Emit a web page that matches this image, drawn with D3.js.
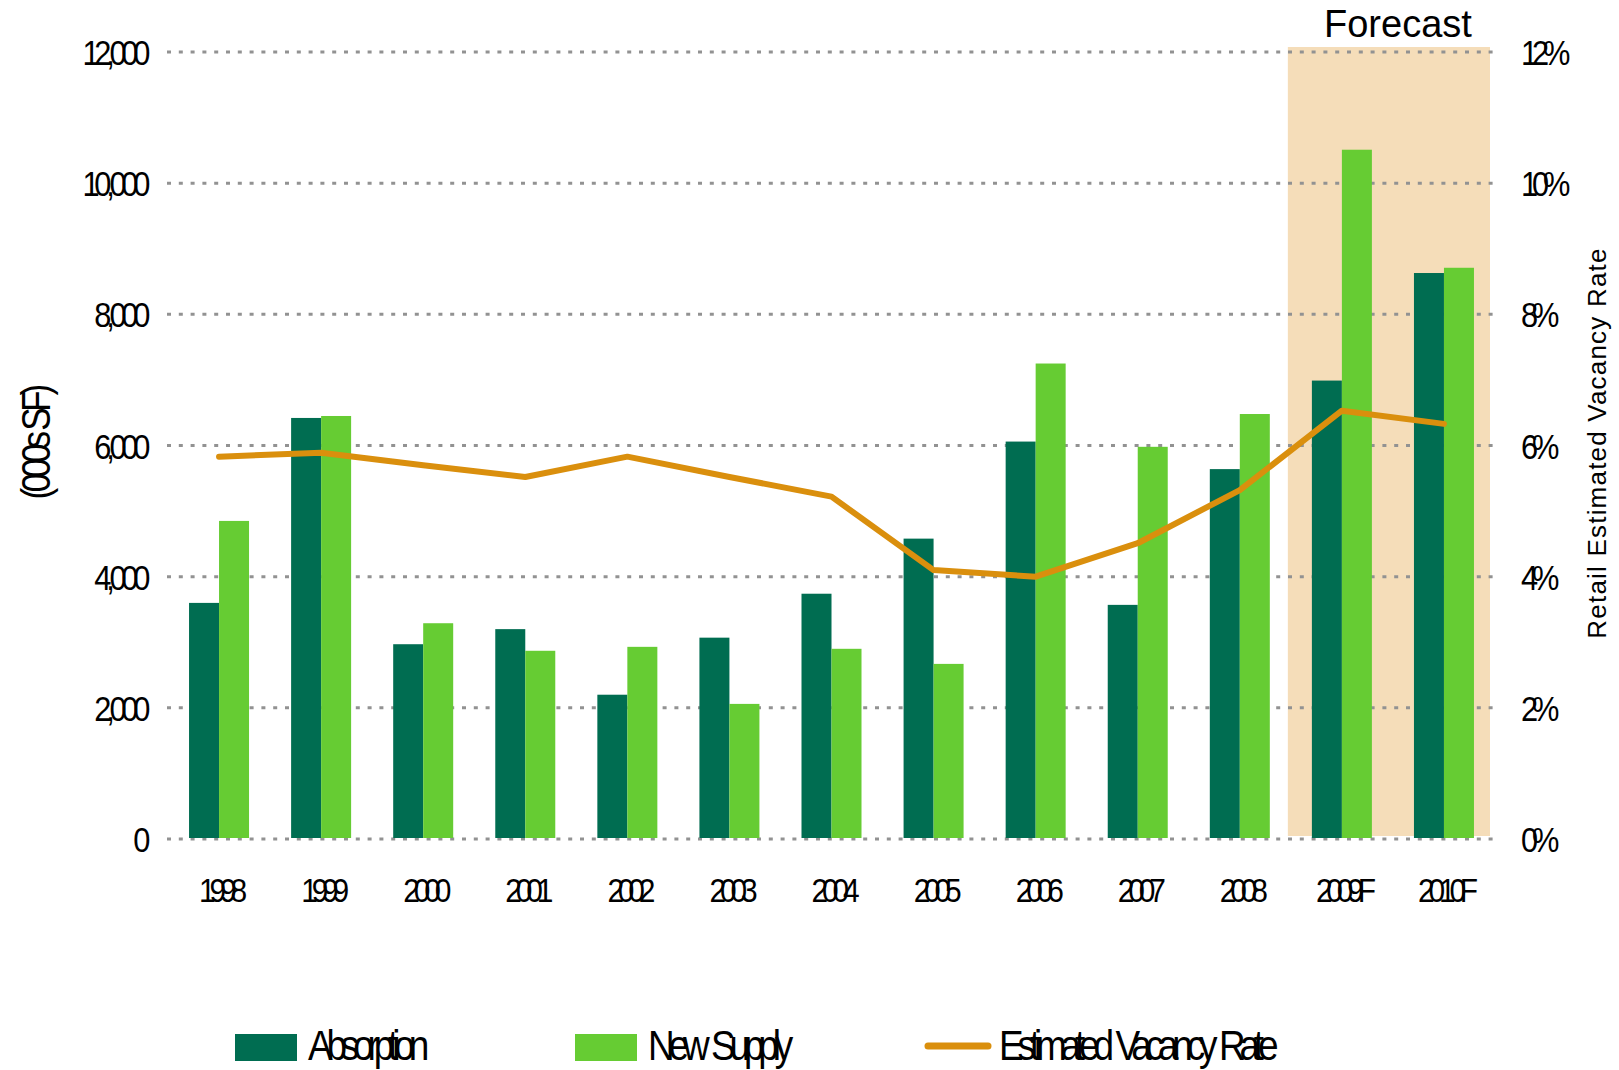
<!DOCTYPE html>
<html lang="en">
<head>
<meta charset="UTF-8">
<title>Absorption, New Supply and Vacancy Rate</title>
<script src="https://d3js.org/d3.v7.min.js"></script>
<style>
    body { margin: 0; background: #fff; }
    text { font-family: "Liberation Sans", Arial, sans-serif; fill: #000; }
</style>
</head>
<body>
<script>
// Data
const years = ["1998", "1999", "2000", "2001", "2002", "2003", "2004", "2005", "2006", "2007", "2008", "2009F", "2010F"];
const absorption = [3600, 6420, 2970, 3200, 2200, 3070, 3740, 4580, 6060, 3570, 5640, 6990, 8630];
const newSupply = [4850, 6450, 3290, 2870, 2930, 2060, 2900, 2670, 7250, 5980, 6480, 10510, 8710];
const vacancy = [5.83, 5.89, 5.70, 5.52, 5.83, 5.52, 5.22, 4.10, 4.00, 4.51, 5.32, 6.53, 6.33];
const forecastYears = ["2009F", "2010F"];
const leftTicks = [0, 2000, 4000, 6000, 8000, 10000, 12000];
const rightTicks = [0, 2, 4, 6, 8, 10, 12];
const legendLabels = ["Absorption", "New Supply", "Estimated Vacancy Rate"];

const colors = {abs: "#006d51", sup: "#66cc33", line: "#da8f0d", shade: "#f5ddb9", grid: "#929292"};

const W = 1619, H = 1070;
const SX = 0.88; // horizontal squeeze used for the narrow labels

const svg = d3.select("body").append("svg")
    .attr("width", W)
    .attr("height", H);

// scales
const x = d3.scaleBand().domain(years).range([168, 1495]);
const y = d3.scaleLinear().domain([0, 12000]).range([839, 52]);
const y2 = d3.scaleLinear().domain([0, 12]).range([839, 52]);
const barW = 30;
const cx = d => x(d) + x.bandwidth() / 2;

// forecast shading
const f0 = x(forecastYears[0]) - 3;
const f1 = x(forecastYears[forecastYears.length - 1]) + x.bandwidth() - 5;
svg.append("rect")
    .attr("x", f0)
    .attr("y", 47)
    .attr("width", f1 - f0)
    .attr("height", y(0) - 3 - 47)
    .attr("fill", colors.shade);

svg.append("text")
    .attr("x", (f0 + f1) / 2 + 9)
    .attr("y", 37)
    .attr("text-anchor", "middle")
    .style("font-size", "38px")
    .text("Forecast");

// gridlines
svg.append("g")
    .selectAll("line")
    .data(leftTicks)
    .join("line")
    .attr("x1", 167)
    .attr("x2", 1494)
    .attr("y1", d => y(d))
    .attr("y2", d => y(d))
    .attr("stroke", colors.grid)
    .attr("stroke-width", 3)
    .attr("stroke-dasharray", "4,7.8");

// bars
const groups = svg.append("g")
    .selectAll("g")
    .data(years)
    .join("g");

groups.append("rect")
    .attr("x", d => cx(d) - barW)
    .attr("width", barW)
    .attr("y", (d, i) => y(absorption[i]))
    .attr("height", (d, i) => y(0) - 1 - y(absorption[i]))
    .attr("fill", colors.abs);

groups.append("rect")
    .attr("x", d => cx(d))
    .attr("width", barW)
    .attr("y", (d, i) => y(newSupply[i]))
    .attr("height", (d, i) => y(0) - 1 - y(newSupply[i]))
    .attr("fill", colors.sup);

// vacancy line
const line = d3.line()
    .x((d, i) => cx(years[i]))
    .y(d => y2(d));

svg.append("path")
    .datum(vacancy)
    .attr("d", line)
    .attr("fill", "none")
    .attr("stroke", colors.line)
    .attr("stroke-width", 6)
    .attr("stroke-linecap", "round")
    .attr("stroke-linejoin", "round");

// left axis
const leftAxis = svg.append("g")
    .attr("transform", "translate(145,0)")
    .call(d3.axisLeft(y).tickValues(leftTicks).tickSize(0).tickPadding(0).tickFormat(d3.format(",")));
leftAxis.select(".domain").remove();
leftAxis.selectAll("text")
    .attr("dy", "0.36em")
    .attr("transform", `scale(${SX},1)`)
    .style("font-size", "35px")
    .style("letter-spacing", "-6px")
    .style("font-family", "'Liberation Sans', Arial, sans-serif");

// right axis
const rightAxis = svg.append("g")
    .attr("transform", "translate(1521,0)")
    .call(d3.axisRight(y2).tickValues(rightTicks).tickSize(0).tickPadding(0).tickFormat(d => d + "%"));
rightAxis.select(".domain").remove();
rightAxis.selectAll("text")
    .attr("dy", "0.36em")
    .attr("transform", `scale(${SX},1)`)
    .style("font-size", "35px")
    .style("letter-spacing", "-7px")
    .style("font-family", "'Liberation Sans', Arial, sans-serif");

// x labels
svg.append("g")
    .selectAll("text")
    .data(years)
    .join("text")
    .attr("transform", d => `translate(${cx(d) + 1},902) scale(${SX},1)`)
    .attr("text-anchor", "middle")
    .style("font-size", "34px")
    .style("letter-spacing", "-7px")
    .text(d => d);

// axis titles
svg.append("text")
    .attr("transform", `translate(50,444) rotate(-90) scale(${SX},1)`)
    .attr("text-anchor", "middle")
    .style("font-size", "40px")
    .style("letter-spacing", "-5.5px")
    .text("(000s SF)");

svg.append("text")
    .attr("transform", "translate(1606,443) rotate(-90)")
    .attr("text-anchor", "middle")
    .style("font-size", "26px")
    .style("letter-spacing", "1.2px")
    .text("Retail Estimated Vacancy Rate");

// legend
const legendX = [235, 575, 925];
const legend = svg.append("g")
    .selectAll("g")
    .data(legendLabels)
    .join("g")
    .attr("transform", (d, i) => `translate(${legendX[i]},0)`);

legend.filter((d, i) => i < 2).append("rect")
    .attr("y", 1034)
    .attr("width", 62)
    .attr("height", 27)
    .attr("fill", (d, i) => i === 0 ? colors.abs : colors.sup);

legend.filter((d, i) => i === 2).append("line")
    .attr("x1", 3)
    .attr("x2", 63)
    .attr("y1", 1046)
    .attr("y2", 1046)
    .attr("stroke", colors.line)
    .attr("stroke-width", 7)
    .attr("stroke-linecap", "round");

legend.append("text")
    .attr("transform", (d, i) => `translate(${i === 2 ? 74 : 73},1060) scale(${SX},1)`)
    .style("font-size", "42px")
    .style("letter-spacing", "-7px")
    .style("word-spacing", "4px")
    .text(d => d);
</script>
</body>
</html>
